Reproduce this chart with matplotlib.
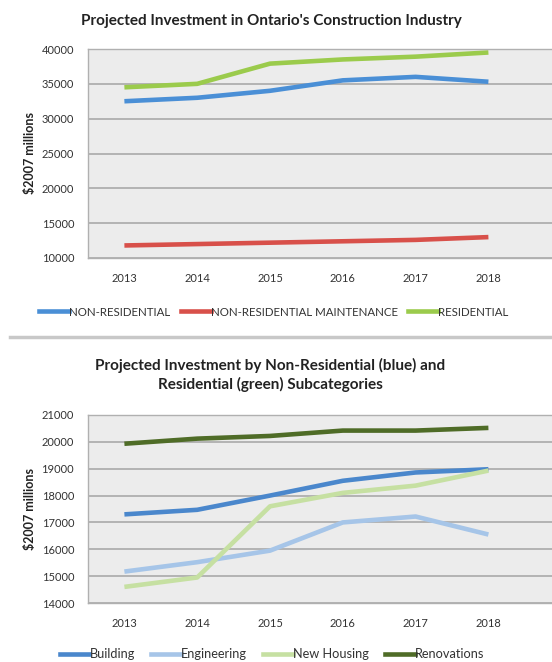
import matplotlib
matplotlib.use("Agg")
import matplotlib.pyplot as plt
from matplotlib.lines import Line2D

plt.rcParams['font.family'] = ['Lato', 'DejaVu Sans']

years = ['2013', '2014', '2015', '2016', '2017', '2018']

# Top chart
non_residential = [32500, 33000, 34000, 35500, 36000, 35300]
non_res_maint = [11800, 12000, 12200, 12400, 12600, 13000]
residential = [34500, 35000, 37900, 38500, 38900, 39500]
top_labels = ['NON-RESIDENTIAL', 'NON-RESIDENTIAL MAINTENANCE', 'RESIDENTIAL']
top_colors = ['#4a8fd6', '#d8504a', '#9bcb4c']

# Bottom chart
building = [17300, 17470, 18000, 18550, 18860, 18980]
engineering = [15170, 15520, 15950, 17000, 17220, 16550]
new_housing = [14600, 14950, 17600, 18100, 18370, 18930]
renovations = [19930, 20120, 20220, 20420, 20420, 20520]
bot_labels = ['Building', 'Engineering', 'New Housing', 'Renovations']
bot_colors = ['#4a87cc', '#a6c5e8', '#c6e0a2', '#4f6c27']

W, H = 552, 662
fig = plt.figure(figsize=(W / 100, H / 100), dpi=100)
fig.patch.set_facecolor('white')

def px_axes(left, top, right, bottom):
    return fig.add_axes([left / W, 1 - bottom / H, (right - left) / W, (bottom - top) / H])

def style(ax, ymin, ymax, step):
    x = list(range(len(years)))
    ax.set_facecolor('#ececec')
    ax.set_xlim(-0.5, -0.5 + (552 - 88) / 72.8)
    ax.set_ylim(ymin, ymax)
    ax.set_yticks(range(ymin, ymax + 1, step))
    ax.set_xticks(x)
    ax.set_xticklabels(years)
    ax.yaxis.grid(True, color='#a9a9a9', linewidth=1.2)
    ax.set_axisbelow(True)
    for s in ['left', 'top', 'bottom']:
        ax.spines[s].set_color('#b0b0b0')
        ax.spines[s].set_linewidth(1.0)
    ax.spines['right'].set_visible(False)
    ax.tick_params(axis='both', length=0, labelsize=8, colors='#333333', pad=11)
    ax.tick_params(axis='y', pad=10)
    ax.set_ylabel('\\$2007 millions', fontsize=9, fontweight='bold', color='#222222', labelpad=4)

# Top
ax1 = px_axes(88, 49, 552, 258)
x = list(range(len(years)))
for vals, c in zip([non_residential, non_res_maint, residential], top_colors):
    ax1.plot(x, vals, color=c, linewidth=3.3, solid_capstyle='butt')
style(ax1, 10000, 40000, 5000)
fig.text(271 / W, 1 - 21 / H, "Projected Investment in Ontario's Construction Industry",
         ha='center', va='center', fontsize=11, fontweight='bold', color='#222222')

h1 = [Line2D([0], [0], color=c, linewidth=3.3) for c in top_colors]
fig.legend(h1, top_labels, loc='center', bbox_to_anchor=(274 / W, 1 - 312 / H), ncol=3,
           frameon=False, fontsize=8.3, handlelength=2.6, handletextpad=0.0, columnspacing=0.9,
           labelcolor='#333333')

# Separator
fig.add_artist(Line2D([10 / W, 1.0], [1 - 337 / H, 1 - 337 / H], color='#c8c8c8', linewidth=2.5,
                      transform=fig.transFigure))

# Bottom
ax2 = px_axes(88, 415, 552, 603)
for vals, c in zip([building, engineering, new_housing, renovations], bot_colors):
    ax2.plot(x, vals, color=c, linewidth=3.3, solid_capstyle='butt')
style(ax2, 14000, 21000, 1000)
fig.text(270 / W, 1 - 375 / H, "Projected Investment by Non-Residential (blue) and\nResidential (green) Subcategories",
         ha='center', va='center', fontsize=11, fontweight='bold', color='#222222', linespacing=1.3)

h2 = [Line2D([0], [0], color=c, linewidth=3.3) for c in bot_colors]
fig.legend(h2, bot_labels, loc='center', bbox_to_anchor=(272 / W, 1 - 654 / H), ncol=4,
           frameon=False, fontsize=9.2, handlelength=2.3, handletextpad=0.0, columnspacing=1.3,
           labelcolor='#333333')

fig.savefig('out.png', dpi=100, facecolor='white')
